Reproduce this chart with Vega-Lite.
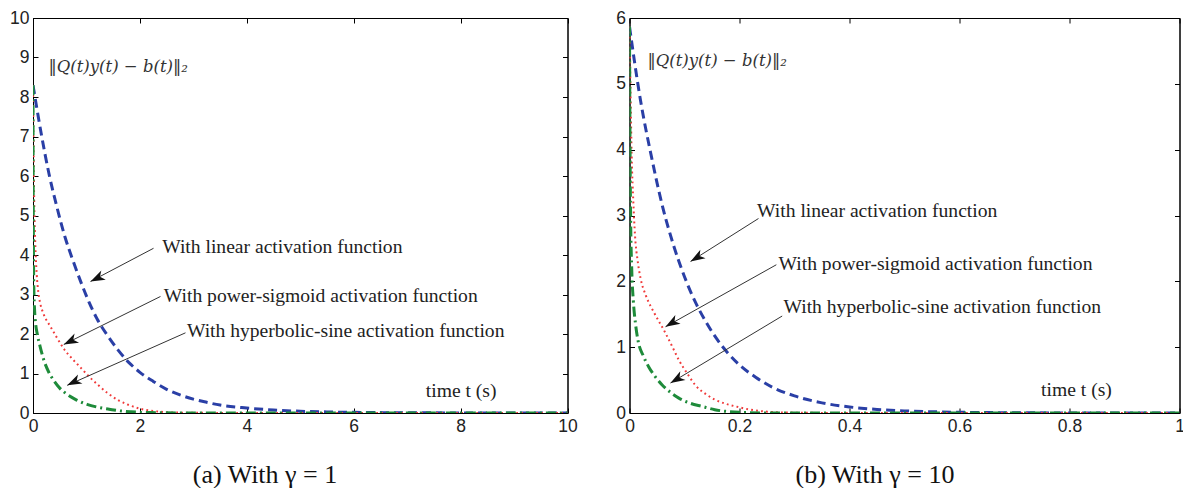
{
  "$schema": "https://vega.github.io/schema/vega-lite/v6.json",
  "background": "white",
  "padding": {"left": 9, "top": 8, "right": 0, "bottom": 0},
  "bounds": "flush",
  "spacing": 61.5,
  "config": {
    "view": {"stroke": "#000", "strokeWidth": 1},
    "axis": {
      "grid": false,
      "domainColor": "#000",
      "domainWidth": 1,
      "tickColor": "#000",
      "tickSize": -5,
      "labelPadding": 9,
      "labelFlush": false,
      "labelFont": "Liberation Sans",
      "labelFontSize": 17.5,
      "labelColor": "#222",
      "titleFont": "Liberation Serif",
      "titleFontSize": 26,
      "titleFontWeight": "normal",
      "titleColor": "#111"
    }
  },
  "datasets": {
    "a_curves": [
      {"t": 0, "v": 8.3, "s": "linear"}, {"t": 0.15, "v": 7.1, "s": "linear"}, {"t": 0.3, "v": 6.05, "s": "linear"}, {"t": 0.45, "v": 5.2, "s": "linear"}, {"t": 0.6, "v": 4.45, "s": "linear"}, {"t": 0.75, "v": 3.85, "s": "linear"}, {"t": 0.9, "v": 3.3, "s": "linear"}, {"t": 1.05, "v": 2.8, "s": "linear"}, {"t": 1.2, "v": 2.38, "s": "linear"}, {"t": 1.4, "v": 1.95, "s": "linear"}, {"t": 1.6, "v": 1.58, "s": "linear"}, {"t": 1.8, "v": 1.27, "s": "linear"}, {"t": 2.0, "v": 1.03, "s": "linear"}, {"t": 2.25, "v": 0.8, "s": "linear"}, {"t": 2.5, "v": 0.6, "s": "linear"}, {"t": 2.75, "v": 0.46, "s": "linear"}, {"t": 3.0, "v": 0.35, "s": "linear"}, {"t": 3.25, "v": 0.27, "s": "linear"}, {"t": 3.5, "v": 0.2, "s": "linear"}, {"t": 4.0, "v": 0.125, "s": "linear"}, {"t": 4.5, "v": 0.075, "s": "linear"}, {"t": 5.0, "v": 0.045, "s": "linear"}, {"t": 5.5, "v": 0.027, "s": "linear"}, {"t": 6.0, "v": 0.016, "s": "linear"}, {"t": 7.0, "v": 0.006, "s": "linear"}, {"t": 8.0, "v": 0.002, "s": "linear"}, {"t": 9.0, "v": 0.001, "s": "linear"}, {"t": 10.0, "v": 0, "s": "linear"},
      {"t": 0, "v": 8.3, "s": "power"}, {"t": 0.005, "v": 7.5, "s": "power"}, {"t": 0.01, "v": 6.8, "s": "power"}, {"t": 0.02, "v": 5.6, "s": "power"}, {"t": 0.04, "v": 4.4, "s": "power"}, {"t": 0.07, "v": 3.5, "s": "power"}, {"t": 0.1, "v": 3.05, "s": "power"}, {"t": 0.14, "v": 2.75, "s": "power"}, {"t": 0.2, "v": 2.5, "s": "power"}, {"t": 0.33, "v": 2.18, "s": "power"}, {"t": 0.45, "v": 1.9, "s": "power"}, {"t": 0.58, "v": 1.62, "s": "power"}, {"t": 0.75, "v": 1.35, "s": "power"}, {"t": 0.89, "v": 1.15, "s": "power"}, {"t": 1.05, "v": 0.92, "s": "power"}, {"t": 1.2, "v": 0.73, "s": "power"}, {"t": 1.4, "v": 0.5, "s": "power"}, {"t": 1.6, "v": 0.32, "s": "power"}, {"t": 1.76, "v": 0.22, "s": "power"}, {"t": 2.0, "v": 0.11, "s": "power"}, {"t": 2.2, "v": 0.06, "s": "power"}, {"t": 2.5, "v": 0.02, "s": "power"}, {"t": 3.0, "v": 0.005, "s": "power"}, {"t": 4.0, "v": 0, "s": "power"}, {"t": 10.0, "v": 0, "s": "power"},
      {"t": 0, "v": 8.3, "s": "sinh"}, {"t": 0.003, "v": 6.0, "s": "sinh"}, {"t": 0.007, "v": 4.5, "s": "sinh"}, {"t": 0.015, "v": 3.2, "s": "sinh"}, {"t": 0.03, "v": 2.6, "s": "sinh"}, {"t": 0.05, "v": 2.25, "s": "sinh"}, {"t": 0.08, "v": 2.0, "s": "sinh"}, {"t": 0.13, "v": 1.7, "s": "sinh"}, {"t": 0.2, "v": 1.35, "s": "sinh"}, {"t": 0.3, "v": 1.02, "s": "sinh"}, {"t": 0.39, "v": 0.82, "s": "sinh"}, {"t": 0.5, "v": 0.63, "s": "sinh"}, {"t": 0.64, "v": 0.47, "s": "sinh"}, {"t": 0.8, "v": 0.34, "s": "sinh"}, {"t": 1.01, "v": 0.22, "s": "sinh"}, {"t": 1.2, "v": 0.15, "s": "sinh"}, {"t": 1.45, "v": 0.09, "s": "sinh"}, {"t": 1.65, "v": 0.05, "s": "sinh"}, {"t": 1.83, "v": 0.03, "s": "sinh"}, {"t": 2.2, "v": 0.01, "s": "sinh"}, {"t": 3.0, "v": 0, "s": "sinh"}, {"t": 10.0, "v": 0, "s": "sinh"}
    ],
    "a_arrows": [
      {"t": 2.255, "v": 4.17, "t2": 1.076, "v2": 3.33},
      {"t": 2.385, "v": 2.95, "t2": 0.576, "v2": 1.735},
      {"t": 2.853, "v": 2.03, "t2": 0.64, "v2": 0.7}
    ],
    "a_notes": [
      {"t": 2.417, "v": 4.19, "label": "With linear activation function"},
      {"t": 2.447, "v": 2.95, "label": "With power-sigmoid activation function"},
      {"t": 2.88, "v": 2.07, "label": "With hyperbolic-sine activation function"}
    ],
    "a_time": [{"t": 8.01, "v": 0.556, "label": "time t (s)"}],
    "a_math": [{"t": 0.29, "v": 8.76, "label": "‖Q(t)y(t) − b(t)‖₂"}],
    "b_curves": [
      {"t": 0, "v": 5.87, "s": "linear"}, {"t": 0.02, "v": 4.75, "s": "linear"}, {"t": 0.04, "v": 3.89, "s": "linear"}, {"t": 0.06, "v": 3.14, "s": "linear"}, {"t": 0.08, "v": 2.55, "s": "linear"}, {"t": 0.1, "v": 2.07, "s": "linear"}, {"t": 0.12, "v": 1.68, "s": "linear"}, {"t": 0.14, "v": 1.37, "s": "linear"}, {"t": 0.16, "v": 1.11, "s": "linear"}, {"t": 0.18, "v": 0.9, "s": "linear"}, {"t": 0.2, "v": 0.73, "s": "linear"}, {"t": 0.23, "v": 0.54, "s": "linear"}, {"t": 0.26, "v": 0.39, "s": "linear"}, {"t": 0.3, "v": 0.26, "s": "linear"}, {"t": 0.35, "v": 0.154, "s": "linear"}, {"t": 0.4, "v": 0.092, "s": "linear"}, {"t": 0.45, "v": 0.054, "s": "linear"}, {"t": 0.5, "v": 0.032, "s": "linear"}, {"t": 0.55, "v": 0.019, "s": "linear"}, {"t": 0.6, "v": 0.011, "s": "linear"}, {"t": 0.7, "v": 0.004, "s": "linear"}, {"t": 0.8, "v": 0.001, "s": "linear"}, {"t": 1.0, "v": 0, "s": "linear"},
      {"t": 0, "v": 5.87, "s": "power"}, {"t": 0.002, "v": 4.8, "s": "power"}, {"t": 0.004, "v": 3.9, "s": "power"}, {"t": 0.007, "v": 3.2, "s": "power"}, {"t": 0.01, "v": 2.7, "s": "power"}, {"t": 0.015, "v": 2.3, "s": "power"}, {"t": 0.02, "v": 2.05, "s": "power"}, {"t": 0.03, "v": 1.78, "s": "power"}, {"t": 0.045, "v": 1.52, "s": "power"}, {"t": 0.065, "v": 1.22, "s": "power"}, {"t": 0.08, "v": 0.97, "s": "power"}, {"t": 0.09, "v": 0.8, "s": "power"}, {"t": 0.105, "v": 0.6, "s": "power"}, {"t": 0.12, "v": 0.42, "s": "power"}, {"t": 0.14, "v": 0.28, "s": "power"}, {"t": 0.156, "v": 0.2, "s": "power"}, {"t": 0.175, "v": 0.14, "s": "power"}, {"t": 0.193, "v": 0.1, "s": "power"}, {"t": 0.22, "v": 0.05, "s": "power"}, {"t": 0.25, "v": 0.02, "s": "power"}, {"t": 0.3, "v": 0.005, "s": "power"}, {"t": 0.4, "v": 0, "s": "power"}, {"t": 1.0, "v": 0, "s": "power"},
      {"t": 0, "v": 5.87, "s": "sinh"}, {"t": 0.001, "v": 4.0, "s": "sinh"}, {"t": 0.002, "v": 3.0, "s": "sinh"}, {"t": 0.004, "v": 2.2, "s": "sinh"}, {"t": 0.007, "v": 1.7, "s": "sinh"}, {"t": 0.011, "v": 1.35, "s": "sinh"}, {"t": 0.016, "v": 1.08, "s": "sinh"}, {"t": 0.025, "v": 0.87, "s": "sinh"}, {"t": 0.035, "v": 0.7, "s": "sinh"}, {"t": 0.047, "v": 0.55, "s": "sinh"}, {"t": 0.059, "v": 0.43, "s": "sinh"}, {"t": 0.075, "v": 0.31, "s": "sinh"}, {"t": 0.089, "v": 0.23, "s": "sinh"}, {"t": 0.11, "v": 0.15, "s": "sinh"}, {"t": 0.132, "v": 0.1, "s": "sinh"}, {"t": 0.155, "v": 0.05, "s": "sinh"}, {"t": 0.175, "v": 0.025, "s": "sinh"}, {"t": 0.2, "v": 0.01, "s": "sinh"}, {"t": 0.25, "v": 0, "s": "sinh"}, {"t": 1.0, "v": 0, "s": "sinh"}
    ],
    "b_arrows": [
      {"t": 0.2345, "v": 2.954, "t2": 0.111, "v2": 2.302},
      {"t": 0.267, "v": 2.252, "t2": 0.0655, "v2": 1.31},
      {"t": 0.2776, "v": 1.473, "t2": 0.0745, "v2": 0.455}
    ],
    "b_notes": [
      {"t": 0.232, "v": 3.066, "label": "With linear activation function"},
      {"t": 0.271, "v": 2.267, "label": "With power-sigmoid activation function"},
      {"t": 0.28, "v": 1.615, "label": "With hyperbolic-sine activation function"}
    ],
    "b_time": [{"t": 0.8127, "v": 0.344, "label": "time t (s)"}],
    "b_math": [{"t": 0.0327, "v": 5.35, "label": "‖Q(t)y(t) − b(t)‖₂"}]
  },
  "hconcat": [
    {
      "width": 534.5,
      "height": 395,
      "layer": [
        {
          "data": {"name": "a_curves"},
          "transform": [{"filter": "datum.s === 'linear'"}],
          "mark": {"type": "line", "interpolate": "monotone", "clip": true, "color": "#2a3fa6", "strokeWidth": 3, "strokeDash": [9, 5]},
          "encoding": {
            "x": {"field": "t", "type": "quantitative", "scale": {"domain": [0, 10], "nice": false, "zero": false},
                  "axis": {"orient": "bottom", "values": [0, 2, 4, 6, 8, 10], "title": "(a) With γ = 1", "titleX": 231.5, "titleY": 61, "titleAlign": "center", "titleBaseline": "middle"}},
            "y": {"field": "v", "type": "quantitative", "scale": {"domain": [0, 10], "nice": false, "zero": false},
                  "axis": {"orient": "left", "values": [0, 1, 2, 3, 4, 5, 6, 7, 8, 9, 10], "title": null}}
          }
        },
        {
          "data": {"name": "a_curves"},
          "transform": [{"filter": "datum.s === 'power'"}],
          "mark": {"type": "line", "interpolate": "monotone", "clip": true, "color": "#f03a3a", "strokeWidth": 2, "strokeDash": [1.8, 3.2]},
          "encoding": {
            "x": {"field": "t", "type": "quantitative", "axis": null},
            "y": {"field": "v", "type": "quantitative", "axis": null}
          }
        },
        {
          "data": {"name": "a_curves"},
          "transform": [{"filter": "datum.s === 'sinh'"}],
          "mark": {"type": "line", "interpolate": "monotone", "clip": true, "color": "#1e8b3a", "strokeWidth": 3, "strokeDash": [10, 4, 2, 4]},
          "encoding": {
            "x": {"field": "t", "type": "quantitative", "axis": null},
            "y": {"field": "v", "type": "quantitative", "axis": null}
          }
        },
        {
          "data": {"name": "a_arrows"},
          "mark": {"type": "rule", "color": "#333", "strokeWidth": 1},
          "encoding": {
            "x": {"field": "t", "type": "quantitative", "axis": null},
            "y": {"field": "v", "type": "quantitative", "axis": null},
            "x2": {"field": "t2"},
            "y2": {"field": "v2"}
          }
        },
        {
          "data": {"name": "a_arrows"},
          "mark": {"type": "point", "shape": "M0,0L0.7,2L0,1.45L-0.7,2Z", "filled": true, "color": "#111", "opacity": 1, "size": 210, "angle": 244},
          "encoding": {
            "x": {"field": "t2", "type": "quantitative", "axis": null},
            "y": {"field": "v2", "type": "quantitative", "axis": null}
          }
        },
        {
          "data": {"name": "a_notes"},
          "mark": {"type": "text", "align": "left", "baseline": "middle", "font": "Liberation Serif", "fontSize": 19.6, "color": "#222"},
          "encoding": {
            "x": {"field": "t", "type": "quantitative", "axis": null},
            "y": {"field": "v", "type": "quantitative", "axis": null},
            "text": {"field": "label"}
          }
        },
        {
          "data": {"name": "a_time"},
          "mark": {"type": "text", "align": "center", "baseline": "middle", "font": "Liberation Serif", "fontSize": 19.6, "color": "#222"},
          "encoding": {
            "x": {"field": "t", "type": "quantitative", "axis": null},
            "y": {"field": "v", "type": "quantitative", "axis": null},
            "text": {"field": "label"}
          }
        },
        {
          "data": {"name": "a_math"},
          "mark": {"type": "text", "align": "left", "baseline": "middle", "font": "DejaVu Serif", "fontStyle": "italic", "fontSize": 16.5, "color": "#333"},
          "encoding": {
            "x": {"field": "t", "type": "quantitative", "axis": null},
            "y": {"field": "v", "type": "quantitative", "axis": null},
            "text": {"field": "label"}
          }
        },
        {
          "data": {"name": "a_math"},
          "mark": {"type": "point", "opacity": 0},
          "encoding": {
            "x": {"field": "t", "type": "quantitative", "axis": {"orient": "top", "labels": false, "title": null, "values": [0, 2, 4, 6, 8, 10]}},
            "y": {"field": "v", "type": "quantitative", "axis": {"orient": "right", "labels": false, "title": null, "values": [0, 1, 2, 3, 4, 5, 6, 7, 8, 9, 10]}}
          }
        }
      ]
    },
    {
      "width": 550,
      "height": 395,
      "layer": [
        {
          "data": {"name": "b_curves"},
          "transform": [{"filter": "datum.s === 'linear'"}],
          "mark": {"type": "line", "interpolate": "monotone", "clip": true, "color": "#2a3fa6", "strokeWidth": 3, "strokeDash": [9, 5]},
          "encoding": {
            "x": {"field": "t", "type": "quantitative", "scale": {"domain": [0, 1], "nice": false, "zero": false},
                  "axis": {"orient": "bottom", "values": [0, 0.2, 0.4, 0.6, 0.8, 1], "format": "~g", "title": "(b) With γ = 10", "titleX": 245, "titleY": 61, "titleAlign": "center", "titleBaseline": "middle"}},
            "y": {"field": "v", "type": "quantitative", "scale": {"domain": [0, 6], "nice": false, "zero": false},
                  "axis": {"orient": "left", "values": [0, 1, 2, 3, 4, 5, 6], "title": null}}
          }
        },
        {
          "data": {"name": "b_curves"},
          "transform": [{"filter": "datum.s === 'power'"}],
          "mark": {"type": "line", "interpolate": "monotone", "clip": true, "color": "#f03a3a", "strokeWidth": 2, "strokeDash": [1.8, 3.2]},
          "encoding": {
            "x": {"field": "t", "type": "quantitative", "axis": null},
            "y": {"field": "v", "type": "quantitative", "axis": null}
          }
        },
        {
          "data": {"name": "b_curves"},
          "transform": [{"filter": "datum.s === 'sinh'"}],
          "mark": {"type": "line", "interpolate": "monotone", "clip": true, "color": "#1e8b3a", "strokeWidth": 3, "strokeDash": [10, 4, 2, 4]},
          "encoding": {
            "x": {"field": "t", "type": "quantitative", "axis": null},
            "y": {"field": "v", "type": "quantitative", "axis": null}
          }
        },
        {
          "data": {"name": "b_arrows"},
          "mark": {"type": "rule", "color": "#333", "strokeWidth": 1},
          "encoding": {
            "x": {"field": "t", "type": "quantitative", "axis": null},
            "y": {"field": "v", "type": "quantitative", "axis": null},
            "x2": {"field": "t2"},
            "y2": {"field": "v2"}
          }
        },
        {
          "data": {"name": "b_arrows"},
          "mark": {"type": "point", "shape": "M0,0L0.7,2L0,1.45L-0.7,2Z", "filled": true, "color": "#111", "opacity": 1, "size": 210, "angle": 239},
          "encoding": {
            "x": {"field": "t2", "type": "quantitative", "axis": null},
            "y": {"field": "v2", "type": "quantitative", "axis": null}
          }
        },
        {
          "data": {"name": "b_notes"},
          "mark": {"type": "text", "align": "left", "baseline": "middle", "font": "Liberation Serif", "fontSize": 19.6, "color": "#222"},
          "encoding": {
            "x": {"field": "t", "type": "quantitative", "axis": null},
            "y": {"field": "v", "type": "quantitative", "axis": null},
            "text": {"field": "label"}
          }
        },
        {
          "data": {"name": "b_time"},
          "mark": {"type": "text", "align": "center", "baseline": "middle", "font": "Liberation Serif", "fontSize": 19.6, "color": "#222"},
          "encoding": {
            "x": {"field": "t", "type": "quantitative", "axis": null},
            "y": {"field": "v", "type": "quantitative", "axis": null},
            "text": {"field": "label"}
          }
        },
        {
          "data": {"name": "b_math"},
          "mark": {"type": "text", "align": "left", "baseline": "middle", "font": "DejaVu Serif", "fontStyle": "italic", "fontSize": 16.5, "color": "#333"},
          "encoding": {
            "x": {"field": "t", "type": "quantitative", "axis": null},
            "y": {"field": "v", "type": "quantitative", "axis": null},
            "text": {"field": "label"}
          }
        },
        {
          "data": {"name": "b_math"},
          "mark": {"type": "point", "opacity": 0},
          "encoding": {
            "x": {"field": "t", "type": "quantitative", "axis": {"orient": "top", "labels": false, "title": null, "values": [0, 0.2, 0.4, 0.6, 0.8, 1]}},
            "y": {"field": "v", "type": "quantitative", "axis": {"orient": "right", "labels": false, "title": null, "values": [0, 1, 2, 3, 4, 5, 6]}}
          }
        }
      ]
    }
  ]
}
